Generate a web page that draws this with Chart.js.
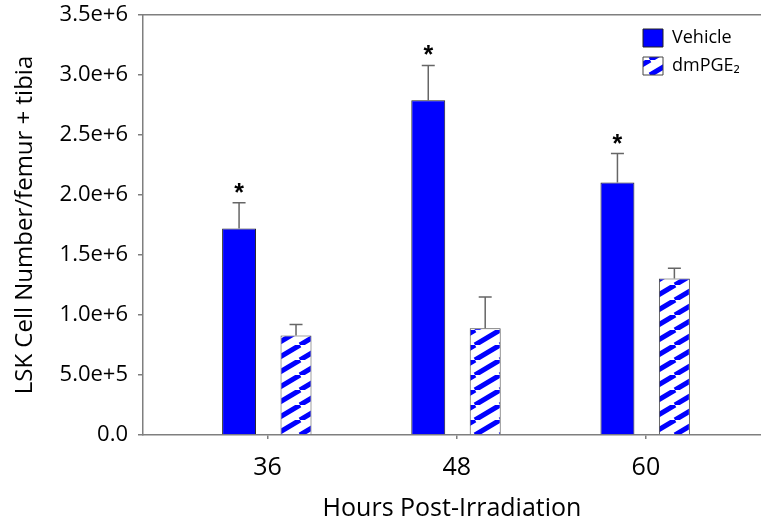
<!DOCTYPE html>
<html>
<head>
<meta charset="utf-8">
<script src="https://cdn.jsdelivr.net/npm/chart.js@4.4.0/dist/chart.umd.min.js"></script>
<style>
  body { margin: 0; background: #fff; }
</style>
</head>
<body>
<canvas id="myChart" width="761" height="529"></canvas>
<script>
const ctx = document.getElementById('myChart');

// values
const hours = [36, 48, 60];
const vehicle = [1.72e6, 2.79e6, 2.105e6];
const vehicleErr = [0.215e6, 0.29e6, 0.24e6];
const dmPGE2 = [0.83e6, 0.89e6, 1.305e6];
const dmPGE2Err = [0.09e6, 0.26e6, 0.085e6];
const significant = [true, true, true];
const yTickValues = [0, 5e5, 1e6, 1.5e6, 2e6, 2.5e6, 3e6, 3.5e6];
const yTickLabels = ['0.0', '5.0e+5', '1.0e+6', '1.5e+6', '2.0e+6', '2.5e+6', '3.0e+6', '3.5e+6'];

const axisGray = '#7f7f7f';
Chart.defaults.font.family = "'Open Sans', sans-serif";
Chart.defaults.color = '#000';

// diagonal blue / white stripes
function makeHatch() {
    const w = 25, h = 15;
    const c = document.createElement('canvas');
    c.width = w; c.height = h;
    const g = c.getContext('2d');
    g.fillStyle = '#fff';
    g.fillRect(0, 0, w, h);
    g.strokeStyle = '#0000ff';
    g.lineWidth = 5;
    g.beginPath();
    for (const o of [-w, 0, w]) {
        g.moveTo(o, h);
        g.lineTo(o + w, 0);
    }
    g.stroke();
    return ctx.getContext('2d').createPattern(c, 'repeat');
}

const errors = [vehicleErr, dmPGE2Err];
const stars = [significant, null];

const errorBars = {
    id: 'errorBars',
    afterDatasetsDraw(chart) {
        const g = chart.ctx;
        const y = chart.scales.y;
        g.save();
        g.strokeStyle = '#666';
        g.lineWidth = 1.5;
        g.fillStyle = '#000';
        g.font = "bold 25px 'Liberation Sans'";
        g.textAlign = 'center';
        g.textBaseline = 'alphabetic';
        chart.data.datasets.forEach((ds, i) => {
            const meta = chart.getDatasetMeta(i);
            meta.data.forEach((bar, j) => {
                const top = y.getPixelForValue(ds.data[j] + errors[i][j]);
                g.beginPath();
                g.moveTo(bar.x, bar.y);
                g.lineTo(bar.x, top);
                g.moveTo(bar.x - 6.5, top);
                g.lineTo(bar.x + 6.5, top);
                g.stroke();
                if (stars[i] && stars[i][j]) {
                    g.fillText('*', bar.x, top - 2);
                }
            });
        });
        g.restore();
    }
};

// put the legend in the upper right corner of the plot
const legendRight = {
    id: 'legendRight',
    afterLayout(chart) {
        const lg = chart.legend;
        const w = lg.width, h = lg.height;
        lg.left = 633;
        lg.right = lg.left + w;
        lg.top = chart.chartArea.top + 4;
        lg.bottom = lg.top + h;
    }
};

const myChart = new Chart(ctx, {
    type: 'bar',
    data: {
        labels: hours,
        datasets: [{
            label: 'Vehicle',
            data: vehicle,
            backgroundColor: '#0000ff',
            borderColor: '#222',
            borderWidth: 1,
            categoryPercentage: 0.602,
            barPercentage: 0.596
        }, {
            label: 'dmPGE₂',
            data: dmPGE2,
            backgroundColor: makeHatch(),
            borderColor: '#444',
            borderWidth: 1,
            categoryPercentage: 0.602,
            barPercentage: 0.544
        }]
    },
    options: {
        responsive: false,
        animation: false,
        devicePixelRatio: 1,
        layout: { padding: 0 },
        plugins: {
            legend: {
                position: 'chartArea',
                align: 'start',
                labels: {
                    boxWidth: 20,
                    boxHeight: 18,
                    padding: 10,
                    font: { size: 18 },
                    color: '#000'
                }
            },
            tooltip: { enabled: false }
        },
        scales: {
            x: {
                type: 'linear',
                position: 'bottom',
                min: 28.1,
                max: 67.3,
                offset: false,
                afterBuildTicks: s => { s.ticks = hours.map(v => ({ value: v })); },
                afterFit: s => {
                    s.height = 94;
                    s.paddingLeft = 0;
                    s.paddingRight = 0;
                },
                ticks: {
                    font: { size: 25 },
                    padding: 14,
                    callback: v => String(v)
                },
                grid: {
                    offset: false,
                    drawOnChartArea: false,
                    tickLength: 4,
                    color: axisGray,
                    lineWidth: 1.5
                },
                border: { color: axisGray, width: 1.5 },
                title: {
                    display: true,
                    text: 'Hours Post-Irradiation',
                    font: { size: 25 },
                    padding: { top: 0, bottom: 5 }
                }
            },
            xTop: {
                type: 'linear',
                position: 'top',
                min: 28.1,
                max: 67.3,
                afterFit: s => {
                    s.height = 15;
                    s.paddingLeft = 0;
                    s.paddingRight = 0;
                },
                ticks: { display: false },
                grid: { drawOnChartArea: false, drawTicks: false },
                border: { color: axisGray, width: 1.5 }
            },
            y: {
                min: 0,
                max: 3.5e6,
                afterBuildTicks: s => { s.ticks = yTickValues.map(v => ({ value: v })); },
                afterFit: s => {
                    s.width = 143;
                    s.paddingTop = 0;
                    s.paddingBottom = 0;
                },
                ticks: {
                    font: { size: 22 },
                    padding: 10,
                    callback: (v, i) => yTickLabels[i]
                },
                grid: {
                    drawOnChartArea: false,
                    tickLength: 5,
                    color: axisGray,
                    lineWidth: 1.5
                },
                border: { color: axisGray, width: 1.5 },
                title: {
                    display: true,
                    text: 'LSK Cell Number/femur + tibia',
                    font: { size: 24 },
                    padding: { top: 11, bottom: 0 }
                }
            }
        }
    },
    plugins: [errorBars, legendRight]
});
</script>
</body>
</html>
